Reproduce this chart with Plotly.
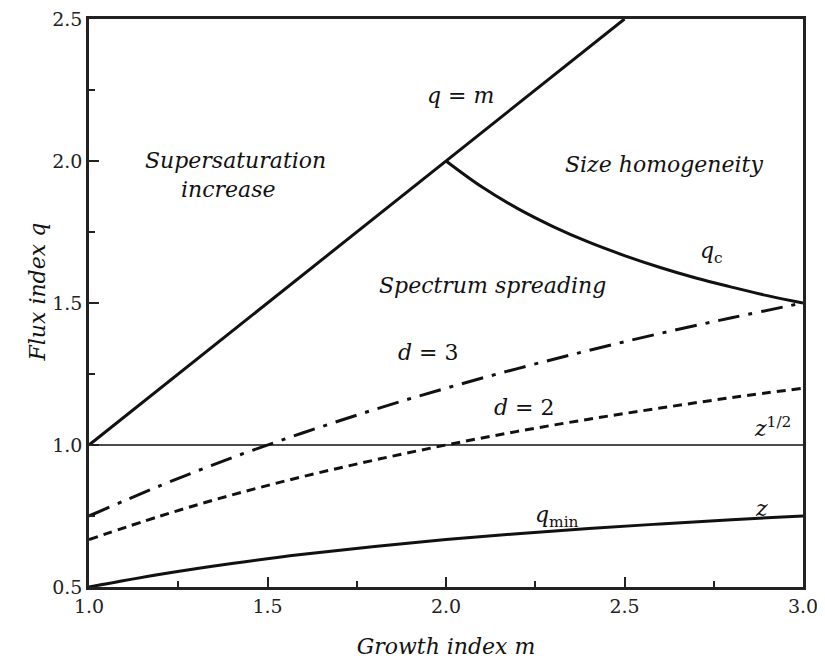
import plotly.graph_objects as go

# q = m line
m_diag = [1.0, 2.0, 2.5]
q_diag = [1.0, 2.0, 2.5]

# q_c curve
m_qc = [2.0, 2.1, 2.2, 2.3, 2.4, 2.5, 2.6, 2.7, 2.8, 2.9, 3.0]
q_qc = [2.0, 1.909, 1.833, 1.769, 1.714, 1.667, 1.625, 1.588, 1.556, 1.526, 1.5]

# shared m grid for lower curves
m_grid = [1.0, 1.2, 1.4, 1.6, 1.8, 2.0, 2.2, 2.4, 2.6, 2.8, 3.0]
q_d3 = [0.75, 0.857, 0.955, 1.043, 1.125, 1.2, 1.269, 1.333, 1.393, 1.448, 1.5]
q_d2 = [0.667, 0.75, 0.824, 0.889, 0.947, 1.0, 1.048, 1.091, 1.130, 1.167, 1.2]
q_min = [0.5, 0.545, 0.583, 0.615, 0.643, 0.667, 0.6875, 0.706, 0.722, 0.737, 0.75]

# horizontal line q = 1
m_h = [1.0, 3.0]
q_h = [1.0, 1.0]

BLACK = "#111111"
FONT = "DejaVu Serif"

fig = go.Figure()
fig.add_trace(go.Scatter(x=m_h, y=q_h, mode="lines", line=dict(color=BLACK, width=1.5)))
fig.add_trace(go.Scatter(x=m_diag, y=q_diag, mode="lines", line=dict(color=BLACK, width=3)))
fig.add_trace(go.Scatter(x=m_qc, y=q_qc, mode="lines", line=dict(color=BLACK, width=3, shape="spline")))
fig.add_trace(go.Scatter(x=m_grid, y=q_d3, mode="lines",
                         line=dict(color=BLACK, width=3, shape="spline", dash="22px,9px,4px,9px")))
fig.add_trace(go.Scatter(x=m_grid, y=q_d2, mode="lines",
                         line=dict(color=BLACK, width=3, shape="spline", dash="9px,6px")))
fig.add_trace(go.Scatter(x=m_grid, y=q_min, mode="lines", line=dict(color=BLACK, width=3, shape="spline")))


def ann(x, y, text, size=22):
    fig.add_annotation(x=x, y=y, text=text, showarrow=False, xref="x", yref="y",
                       font=dict(family=FONT, size=size, color=BLACK))

ann(2.04, 2.23, "<i>q</i> = <i>m</i>")
ann(1.41, 2.003, "<i>Supersaturation</i>")
ann(1.39, 1.898, "<i>increase</i>")
ann(2.61, 1.988, "<i>Size homogeneity</i>")
ann(2.745, 1.677, "<i>q</i><sub>c</sub>")
ann(2.13, 1.56, "<i>Spectrum spreading</i>")
ann(1.95, 1.324, "<i>d</i> = 3")
ann(2.22, 1.133, "<i>d</i> = 2")
ann(2.915, 1.062, "<i>z</i><sup>1/2</sup>")
ann(2.31, 0.748, "<i>q</i><sub>min</sub>")
ann(2.885, 0.776, "<i>z</i>")

# y-axis title as a rotated annotation
fig.add_annotation(x=-0.092, y=0.52, xref="paper", yref="paper", text="<i>Flux index q</i>",
                   textangle=-90, showarrow=False, font=dict(family=FONT, size=22, color=BLACK))

axis_common = dict(
    showline=True, linewidth=2.5, linecolor="#222222", mirror=True,
    ticks="inside", ticklen=10, tickwidth=1.5, tickcolor="#222222",
    showgrid=False, zeroline=False, automargin=False, ticklabeloverflow="allow",
    tickformat=".1f", dtick=0.5,
    tickfont=dict(family=FONT, size=19, color="#222222"),
    minor=dict(ticks="inside", ticklen=6, tickwidth=1.5, tickcolor="#222222", dtick=0.25, showgrid=False),
)

fig.update_xaxes(range=[1.0, 3.0], tick0=1.0,
                 title=dict(text="<i>Growth index m</i>", font=dict(family=FONT, size=22, color=BLACK), standoff=24),
                 **axis_common)
fig.update_yaxes(range=[0.5, 2.5], tick0=0.5, **axis_common)

fig.update_layout(
    width=817, height=656,
    margin=dict(l=81, r=22, t=11, b=77),
    plot_bgcolor="white", paper_bgcolor="white",
    showlegend=False,
)

fig.write_html("out.html")
